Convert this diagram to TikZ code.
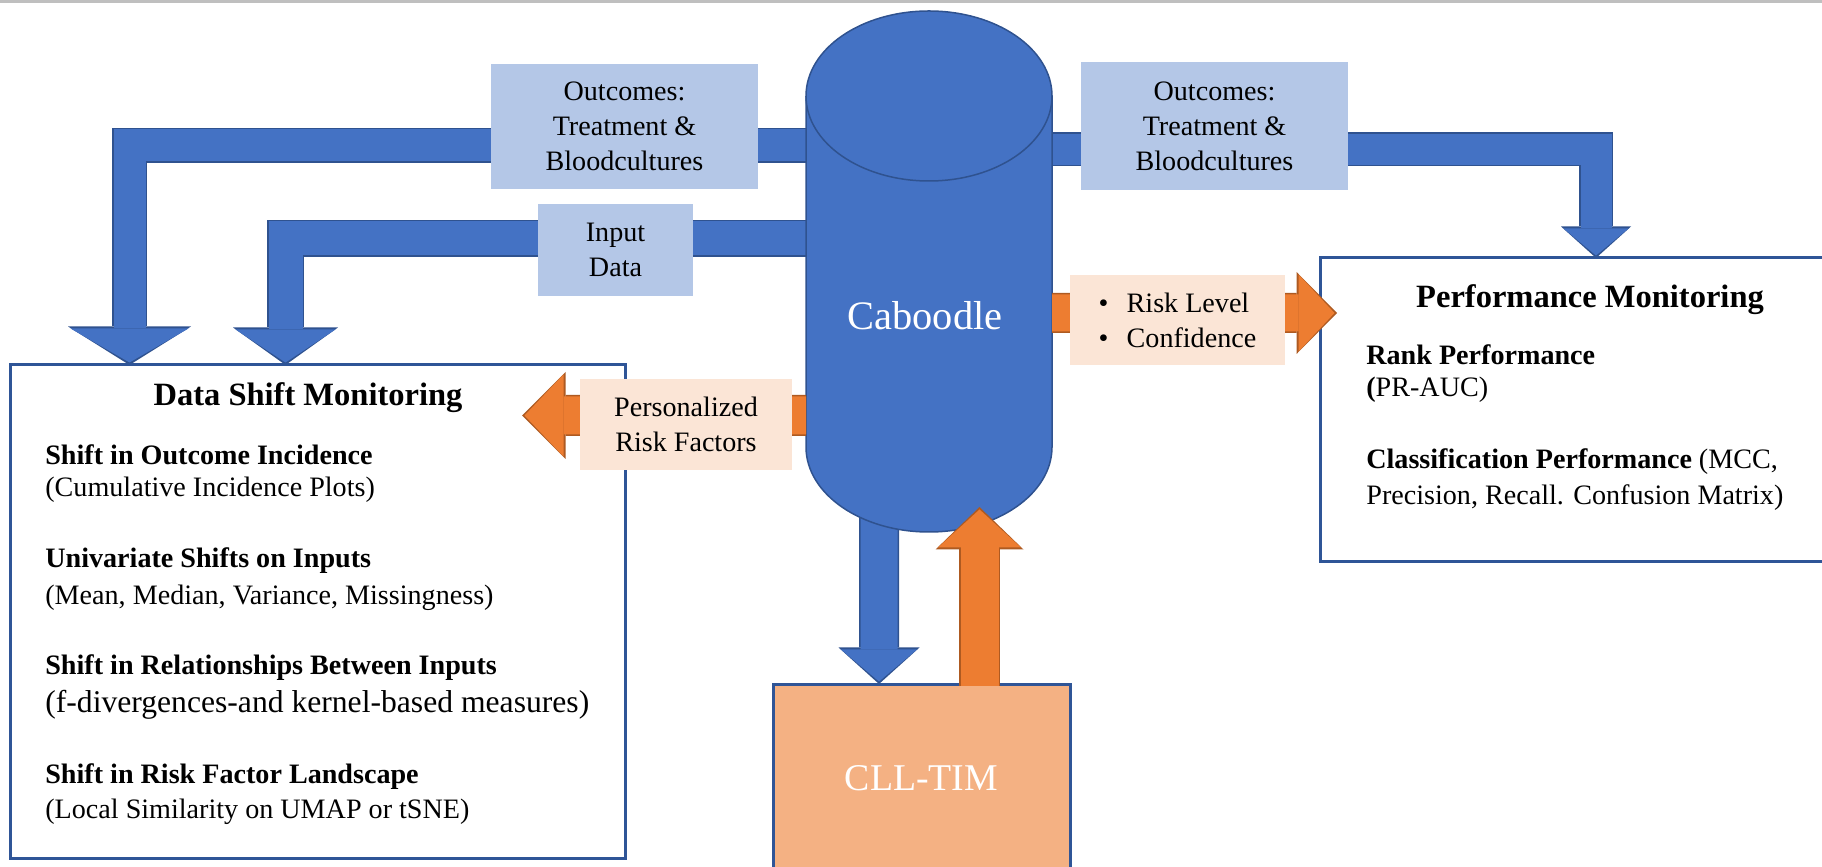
\documentclass[tikz,border=0pt]{standalone}
\usepackage{fontspec}
\setmainfont{Liberation Serif}
\usetikzlibrary{arrows.meta}
\pgfdeclarelayer{bg}
\pgfsetlayers{bg,main}
\definecolor{cblue}{HTML}{4472C4}
\definecolor{cblueline}{HTML}{2F528F}
\definecolor{corange}{HTML}{ED7D31}
\definecolor{corangeline}{HTML}{AE5A21}
\definecolor{clightblue}{HTML}{B4C7E7}
\definecolor{cpeach}{HTML}{FBE5D6}
\definecolor{ctim}{HTML}{F4B183}
\definecolor{cframe}{HTML}{2F5597}
\tikzset{
  monbox/.style={draw=cframe,line width=0.06cm,fill=white,inner sep=0pt,outer sep=0pt},
  tagbox/.style={fill=#1,inner sep=0pt,outer sep=0pt,align=center,font=\fontsize{16pt}{20pt}\selectfont},
  cylbody/.style={fill=cblue,draw=cblueline,line width=0.03cm},
  lbl/.style={inner sep=0pt,anchor=west,font=\fontsize{16pt}{20pt}\selectfont},
  lblb/.style={lbl,font=\fontsize{16pt}{20pt}\selectfont\bfseries},
  ttl/.style={inner sep=0pt,font=\fontsize{18.5pt}{22pt}\selectfont\bfseries},
  blockarrow/.style n args={5}{
    /utils/exec={\pgfmathsetlengthmacro\outlw{#3+0.06cm}%
      \pgfmathsetlengthmacro\outhw{#4+0.10cm}%
      \pgfmathsetlengthmacro\outhl{#5+0.09cm}},
    draw=#1,line width=#3,line join=miter,shorten >=0.05cm,
    -{Triangle[width=#4,length=#5,line width=0pt]},
    preaction={draw=#2,line width=\outlw,shorten >=0pt,
      -{Triangle[width=\outhw,length=\outhl,line width=0pt]}}
  }
}
\begin{document}
\begin{tikzpicture}
\useasboundingbox (0,0) rectangle (36.44,17.32);
% screenshot edge
\fill[black!25] (0,17.25) rectangle (36.44,17.32);
% monitoring boxes
\node[monbox,minimum width=12.30cm,minimum height=9.86cm] (dsm) at (6.35,5.09) {};
\node[monbox,minimum width=10.40cm,minimum height=6.08cm] (perf) at (31.60,9.12) {};
\node[monbox,fill=ctim,minimum width=5.94cm,minimum height=3.76cm,text=white,font=\fontsize{21.5pt}{26pt}\selectfont] (cll) at (18.43,1.76) {CLL-TIM};
% caboodle cylinder
\node[inner sep=0pt,outer sep=0pt,minimum width=4.92cm,minimum height=10.42cm] (cab) at (18.58,11.89) {};
\filldraw[cylbody] ([yshift=-1.70cm]cab.north west) -- ([yshift=1.70cm]cab.south west)
  arc[start angle=180,end angle=360,x radius=2.46cm,y radius=1.70cm]
  -- ([yshift=-1.70cm]cab.north east)
  arc[start angle=0,end angle=180,x radius=2.46cm,y radius=1.70cm] -- cycle;
\draw[cylbody,fill=none] ([yshift=-1.70cm]cab.north west) arc[start angle=180,end angle=360,x radius=2.46cm,y radius=1.70cm];
\node[text=white,font=\fontsize{23pt}{28pt}\selectfont] (cabtxt) at ([xshift=-0.08cm,yshift=-0.89cm]cab.center) {Caboodle};
% data out of caboodle
\begin{pgfonlayer}{bg}
\draw[blockarrow={cblue}{cblueline}{0.64cm}{2.36cm}{0.68cm}] ([yshift=2.52cm]cab.center) -| ([xshift=2.39cm]dsm.north west);
\draw[blockarrow={cblue}{cblueline}{0.68cm}{2.00cm}{0.66cm}] ([yshift=0.66cm]cab.center) -| ([xshift=5.51cm]dsm.north west);
\draw[blockarrow={cblue}{cblueline}{0.62cm}{1.30cm}{0.54cm}] ([yshift=2.44cm]cab.center) -| ([xshift=5.52cm]perf.north west);
\draw[blockarrow={cblue}{cblueline}{0.74cm}{1.52cm}{0.64cm}] ([xshift=-1.00cm]cab.center) -- ([xshift=-0.85cm]cll.north);
\end{pgfonlayer}
% model outputs
\draw[blockarrow={corange}{corangeline}{0.76cm}{1.66cm}{0.76cm}] ([xshift=1.16cm,yshift=-0.04cm]cll.north) -- ([xshift=1.01cm,yshift=-4.71cm]cab.center);
\draw[blockarrow={corange}{corangeline}{0.76cm}{1.64cm}{0.78cm}] ([yshift=-2.88cm]cab.west) -- ([xshift=-2.06cm,yshift=-1.01cm]dsm.north east);
\draw[blockarrow={corange}{corangeline}{0.74cm}{1.54cm}{0.72cm}] ([yshift=-0.83cm]cab.east) -- ([xshift=0.34cm,yshift=-1.10cm]perf.north west);
% tags on the flows
\node[tagbox=clightblue,minimum width=5.34cm,minimum height=2.50cm] (outl) at (12.49,14.79) {Outcomes:\\Treatment \&\\Bloodcultures};
\node[tagbox=clightblue,minimum width=5.34cm,minimum height=2.56cm] (outr) at (24.29,14.80) {Outcomes:\\Treatment \&\\Bloodcultures};
\node[tagbox=clightblue,minimum width=3.10cm,minimum height=1.84cm] (inp) at (12.31,12.32) {Input\\Data};
\node[tagbox=cpeach,minimum width=4.24cm,minimum height=1.82cm] (pers) at (13.72,8.83) {Personalized\\Risk Factors};
\node[tagbox=cpeach,minimum width=4.30cm,minimum height=1.80cm,align=left] (risk) at (23.55,10.92) {\makebox[0.56cm][l]{\textbullet}Risk Level\\\makebox[0.56cm][l]{\textbullet}Confidence};
% data shift text
\node[ttl] (dstitle) at (6.16,9.36) {Data Shift Monitoring};
\node[lblb] (ds1) at (0.90,8.22) {Shift in Outcome Incidence};
\node[lbl] (ds2) at (0.90,7.52) {(Cumulative Incidence Plots)};
\node[lblb] (ds3) at (0.90,6.10) {Univariate Shifts on Inputs};
\node[lbl] (ds4) at (0.90,5.36) {(Mean, Median, Variance, Missingness)};
\node[lblb] (ds5) at (0.90,3.96) {Shift in Relationships Between Inputs};
\node[lbl,font=\fontsize{18pt}{22pt}\selectfont] (ds6) at (0.90,3.22) {(f-divergences-and kernel-based measures)};
\node[lblb] (ds7) at (0.90,1.78) {Shift in Risk Factor Landscape};
\node[lbl] (ds8) at (0.90,1.08) {(Local Similarity on UMAP or tSNE)};
% performance text
\node[ttl] (pmtitle) at (31.80,11.32) {Performance Monitoring};
\node[lblb] (pm1) at (27.32,10.22) {Rank Performance};
\node[lbl] (pm2) at (27.32,9.52) {\textbf{(}PR-AUC)};
\node[lbl] (pm3) at (27.32,8.08) {\textbf{Classification Performance} (MCC,};
\node[lbl] (pm4) at (27.32,7.36) {Precision, Recall. Confusion Matrix)};
\end{tikzpicture}
\end{document}
